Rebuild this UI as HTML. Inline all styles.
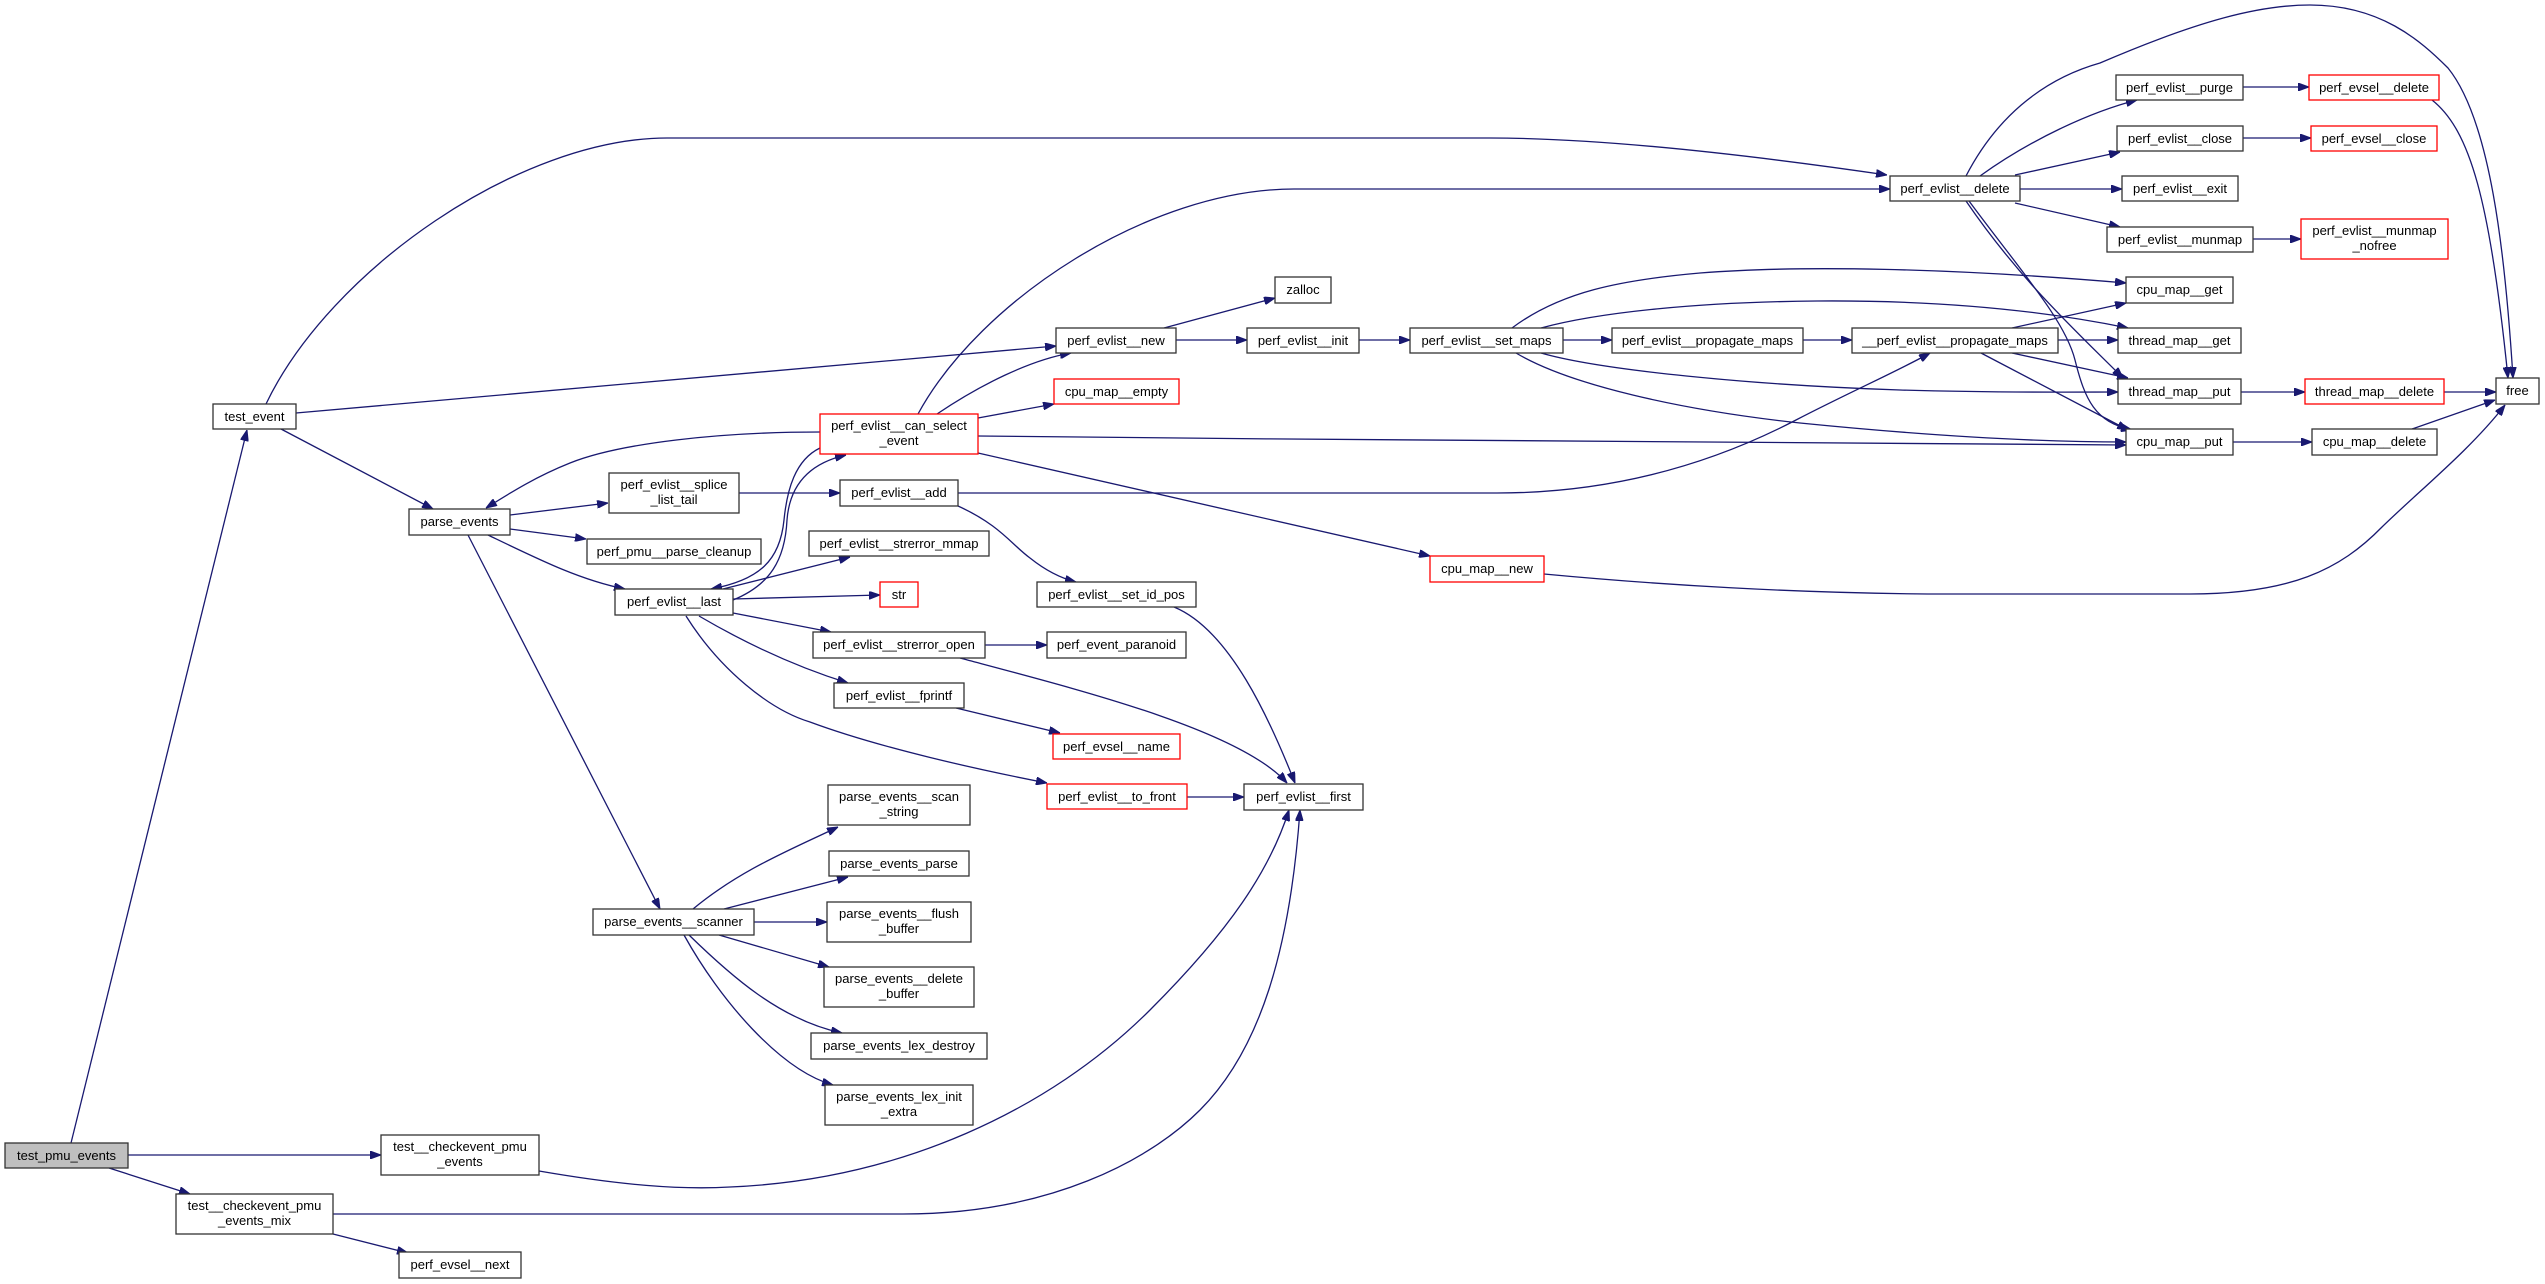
<!DOCTYPE html>
<html><head><meta charset="utf-8"><style>
html,body{margin:0;padding:0;background:#fff;}
svg{display:block;}
text{font-family:"Liberation Sans",Arial,sans-serif;font-size:13px;text-anchor:middle;fill:#000;}
.e{fill:none;stroke:#191970;stroke-width:1.3;marker-end:url(#a);}
.n{fill:#fff;stroke:#333;stroke-width:1.3;}
.r{fill:#fff;stroke:#ff0000;stroke-width:1.3;}
.g{fill:#bfbfbf;stroke:#333;stroke-width:1.3;}
</style></head><body>
<svg width="2545" height="1284" viewBox="0 0 2545 1284" xmlns="http://www.w3.org/2000/svg">
<defs><marker id="a" viewBox="0 0 11 8" refX="11" refY="4" markerWidth="11" markerHeight="8" markerUnits="userSpaceOnUse" orient="auto"><path d="M0,0 L11,4 L0,8 z" fill="#191970" stroke="#191970"/></marker></defs>
<rect width="2545" height="1284" fill="#fff"/>
<!-- edges -->
<path class="e" d="M71,1143 L247,430"/>
<path class="e" d="M128,1155 L381,1155"/>
<path class="e" d="M109,1168 L190,1194"/>
<path class="e" d="M266,404 C330,270 520,138 667,138 L1490,138 C1600,138 1750,155 1887,175"/>
<path class="e" d="M281,429 L433,509"/>
<path class="e" d="M296,413 L1056,346"/>
<path class="e" d="M510,515 L608,503"/>
<path class="e" d="M510,529 L586,539"/>
<path class="e" d="M488,535 C540,560 580,580 625,589"/>
<path class="e" d="M468,535 L660,909"/>
<path class="e" d="M820,432 C720,432 620,443 570,463 C535,477 510,493 486,508"/>
<path class="e" d="M918,414 C980,300 1150,189 1294,189 L1890,189"/>
<path class="e" d="M937,414 C980,385 1030,360 1071,353"/>
<path class="e" d="M978,418 L1054,404"/>
<path class="e" d="M978,436 C1400,440 1900,446 2126,445"/>
<path class="e" d="M978,453 L1430,556"/>
<path class="e" d="M733,600 C770,585 785,560 787,520 C790,480 815,462 846,455"/>
<path class="e" d="M820,448 C795,460 787,490 784,520 C780,560 760,580 711,589"/>
<path class="e" d="M739,493 L840,493"/>
<path class="e" d="M958,493 L1497,493 C1600,493 1700,470 1796,420 C1850,392 1900,370 1930,353"/>
<path class="e" d="M958,506 C1000,525 1012,545 1030,558 C1045,570 1060,578 1076,582"/>
<path class="e" d="M723,589 L850,557"/>
<path class="e" d="M733,599 L880,595"/>
<path class="e" d="M733,613 L831,632"/>
<path class="e" d="M699,616 C740,640 790,665 848,683"/>
<path class="e" d="M686,616 C720,670 770,710 810,722 C880,748 980,770 1047,783"/>
<path class="e" d="M985,645 L1047,645"/>
<path class="e" d="M960,658 C1080,690 1240,730 1287,783"/>
<path class="e" d="M956,708 L1060,733"/>
<path class="e" d="M1187,797 L1244,797"/>
<path class="e" d="M1174,607 C1230,630 1270,720 1295,783"/>
<path class="e" d="M693,909 C740,870 790,850 838,827"/>
<path class="e" d="M724,909 L848,877"/>
<path class="e" d="M754,922 L827,922"/>
<path class="e" d="M719,935 L829,967"/>
<path class="e" d="M689,935 C730,975 780,1020 842,1033"/>
<path class="e" d="M684,935 C720,1000 780,1070 833,1085"/>
<path class="e" d="M539,1171 C620,1185 680,1190 730,1187 C900,1180 1050,1110 1150,1010 C1230,930 1270,870 1289,810"/>
<path class="e" d="M333,1214 L903,1214 C1050,1214 1150,1160 1200,1110 C1260,1050 1290,950 1300,810"/>
<path class="e" d="M333,1234 L408,1253"/>
<path class="e" d="M1164,328 L1275,298"/>
<path class="e" d="M1176,340 L1247,340"/>
<path class="e" d="M1359,340 L1410,340"/>
<path class="e" d="M1563,340 L1612,340"/>
<path class="e" d="M1803,340 L1852,340"/>
<path class="e" d="M1512,328 C1560,292 1620,280 1700,273 C1800,265 1950,268 2126,283"/>
<path class="e" d="M1541,328 C1600,312 1700,302 1817,301 C1950,300 2050,312 2128,328"/>
<path class="e" d="M1541,353 C1600,370 1750,385 1900,390 C2000,393 2080,392 2118,392"/>
<path class="e" d="M1516,353 C1570,385 1680,410 1800,423 C1950,438 2050,442 2126,442"/>
<path class="e" d="M2012,328 L2126,303"/>
<path class="e" d="M2058,340 L2118,340"/>
<path class="e" d="M2012,353 L2128,378"/>
<path class="e" d="M1981,353 L2128,430"/>
<path class="e" d="M1980,176 C2030,140 2090,112 2137,100"/>
<path class="e" d="M2015,175 L2120,152"/>
<path class="e" d="M2020,189 L2122,189"/>
<path class="e" d="M2015,203 L2120,227"/>
<path class="e" d="M1966,176 C1995,120 2040,80 2100,63 C2200,20 2260,5 2310,5 C2380,5 2420,40 2448,68 C2490,120 2505,250 2513,378"/>
<path class="e" d="M2243,87 L2309,87"/>
<path class="e" d="M2432,100 C2470,130 2490,200 2508,378"/>
<path class="e" d="M2243,138 L2311,138"/>
<path class="e" d="M2253,239 L2301,239"/>
<path class="e" d="M1966,201 C2020,280 2075,330 2123,378"/>
<path class="e" d="M1969,201 C2020,270 2065,320 2075,360 C2085,400 2095,422 2132,430"/>
<path class="e" d="M2241,392 L2305,392"/>
<path class="e" d="M2444,392 L2496,392"/>
<path class="e" d="M2233,442 L2312,442"/>
<path class="e" d="M2412,429 L2495,400"/>
<path class="e" d="M1544,574 C1650,584 1800,594 1950,594 L2190,594 C2290,594 2340,570 2382,527 C2420,490 2470,450 2505,405"/>
<!-- nodes -->
<rect class="g" x="5" y="1143" width="123" height="25"/><text x="66.5" y="1160">test_pmu_events</text>
<rect class="n" x="213" y="404" width="83" height="25"/><text x="254.5" y="421">test_event</text>
<rect class="n" x="381" y="1135" width="158" height="40"/><text x="460" y="1151">test__checkevent_pmu</text><text x="460" y="1166">_events</text>
<rect class="n" x="176" y="1194" width="157" height="40"/><text x="254.5" y="1210">test__checkevent_pmu</text><text x="254.5" y="1225">_events_mix</text>
<rect class="n" x="399" y="1252" width="122" height="26"/><text x="460" y="1269">perf_evsel__next</text>
<rect class="n" x="409" y="509" width="101" height="26"/><text x="459.5" y="526">parse_events</text>
<rect class="r" x="820" y="414" width="158" height="40"/><text x="899" y="430">perf_evlist__can_select</text><text x="899" y="445">_event</text>
<rect class="n" x="609" y="473" width="130" height="40"/><text x="674" y="489">perf_evlist__splice</text><text x="674" y="504">_list_tail</text>
<rect class="n" x="587" y="539" width="174" height="25"/><text x="674" y="556">perf_pmu__parse_cleanup</text>
<rect class="n" x="615" y="589" width="118" height="26"/><text x="674" y="606">perf_evlist__last</text>
<rect class="n" x="593" y="909" width="161" height="26"/><text x="673.5" y="926">parse_events__scanner</text>
<rect class="n" x="1056" y="328" width="120" height="25"/><text x="1116" y="345">perf_evlist__new</text>
<rect class="r" x="1054" y="379" width="125" height="25"/><text x="1116.5" y="396">cpu_map__empty</text>
<rect class="n" x="840" y="480" width="118" height="26"/><text x="899" y="497">perf_evlist__add</text>
<rect class="n" x="809" y="531" width="180" height="25"/><text x="899" y="548">perf_evlist__strerror_mmap</text>
<rect class="r" x="880" y="582" width="38" height="25"/><text x="899" y="599">str</text>
<rect class="n" x="813" y="632" width="172" height="26"/><text x="899" y="649">perf_evlist__strerror_open</text>
<rect class="n" x="834" y="683" width="130" height="25"/><text x="899" y="700">perf_evlist__fprintf</text>
<rect class="r" x="1047" y="784" width="140" height="25"/><text x="1117" y="801">perf_evlist__to_front</text>
<rect class="r" x="1053" y="734" width="127" height="25"/><text x="1116.5" y="751">perf_evsel__name</text>
<rect class="n" x="828" y="785" width="142" height="40"/><text x="899" y="801">parse_events__scan</text><text x="899" y="816">_string</text>
<rect class="n" x="829" y="851" width="140" height="25"/><text x="899" y="868">parse_events_parse</text>
<rect class="n" x="827" y="902" width="144" height="40"/><text x="899" y="918">parse_events__flush</text><text x="899" y="933">_buffer</text>
<rect class="n" x="824" y="967" width="150" height="40"/><text x="899" y="983">parse_events__delete</text><text x="899" y="998">_buffer</text>
<rect class="n" x="811" y="1033" width="176" height="26"/><text x="899" y="1050">parse_events_lex_destroy</text>
<rect class="n" x="825" y="1085" width="148" height="40"/><text x="899" y="1101">parse_events_lex_init</text><text x="899" y="1116">_extra</text>
<rect class="n" x="1275" y="277" width="56" height="26"/><text x="1303" y="294">zalloc</text>
<rect class="n" x="1247" y="328" width="112" height="25"/><text x="1303" y="345">perf_evlist__init</text>
<rect class="n" x="1037" y="582" width="159" height="25"/><text x="1116.5" y="599">perf_evlist__set_id_pos</text>
<rect class="n" x="1047" y="632" width="139" height="26"/><text x="1116.5" y="649">perf_event_paranoid</text>
<rect class="n" x="1244" y="784" width="119" height="26"/><text x="1303.5" y="801">perf_evlist__first</text>
<rect class="r" x="1430" y="556" width="114" height="26"/><text x="1487" y="573">cpu_map__new</text>
<rect class="n" x="1410" y="328" width="153" height="25"/><text x="1486.5" y="345">perf_evlist__set_maps</text>
<rect class="n" x="1612" y="328" width="191" height="25"/><text x="1707.5" y="345">perf_evlist__propagate_maps</text>
<rect class="n" x="1852" y="328" width="206" height="25"/><text x="1955" y="345">__perf_evlist__propagate_maps</text>
<rect class="n" x="1890" y="176" width="130" height="25"/><text x="1955" y="193">perf_evlist__delete</text>
<rect class="n" x="2116" y="75" width="127" height="25"/><text x="2179.5" y="92">perf_evlist__purge</text>
<rect class="r" x="2309" y="75" width="130" height="25"/><text x="2374" y="92">perf_evsel__delete</text>
<rect class="n" x="2117" y="126" width="126" height="25"/><text x="2180" y="143">perf_evlist__close</text>
<rect class="r" x="2311" y="126" width="126" height="25"/><text x="2374" y="143">perf_evsel__close</text>
<rect class="n" x="2122" y="176" width="116" height="25"/><text x="2180" y="193">perf_evlist__exit</text>
<rect class="n" x="2107" y="227" width="146" height="25"/><text x="2180" y="244">perf_evlist__munmap</text>
<rect class="r" x="2301" y="219" width="147" height="40"/><text x="2374.5" y="235">perf_evlist__munmap</text><text x="2374.5" y="250">_nofree</text>
<rect class="n" x="2126" y="277" width="107" height="26"/><text x="2179.5" y="294">cpu_map__get</text>
<rect class="n" x="2118" y="328" width="123" height="25"/><text x="2179.5" y="345">thread_map__get</text>
<rect class="n" x="2118" y="379" width="123" height="25"/><text x="2179.5" y="396">thread_map__put</text>
<rect class="r" x="2305" y="379" width="139" height="25"/><text x="2374.5" y="396">thread_map__delete</text>
<rect class="n" x="2496" y="378" width="43" height="26"/><text x="2517.5" y="395">free</text>
<rect class="n" x="2126" y="429" width="107" height="26"/><text x="2179.5" y="446">cpu_map__put</text>
<rect class="n" x="2312" y="429" width="125" height="26"/><text x="2374.5" y="446">cpu_map__delete</text>
</svg>
</body></html>
